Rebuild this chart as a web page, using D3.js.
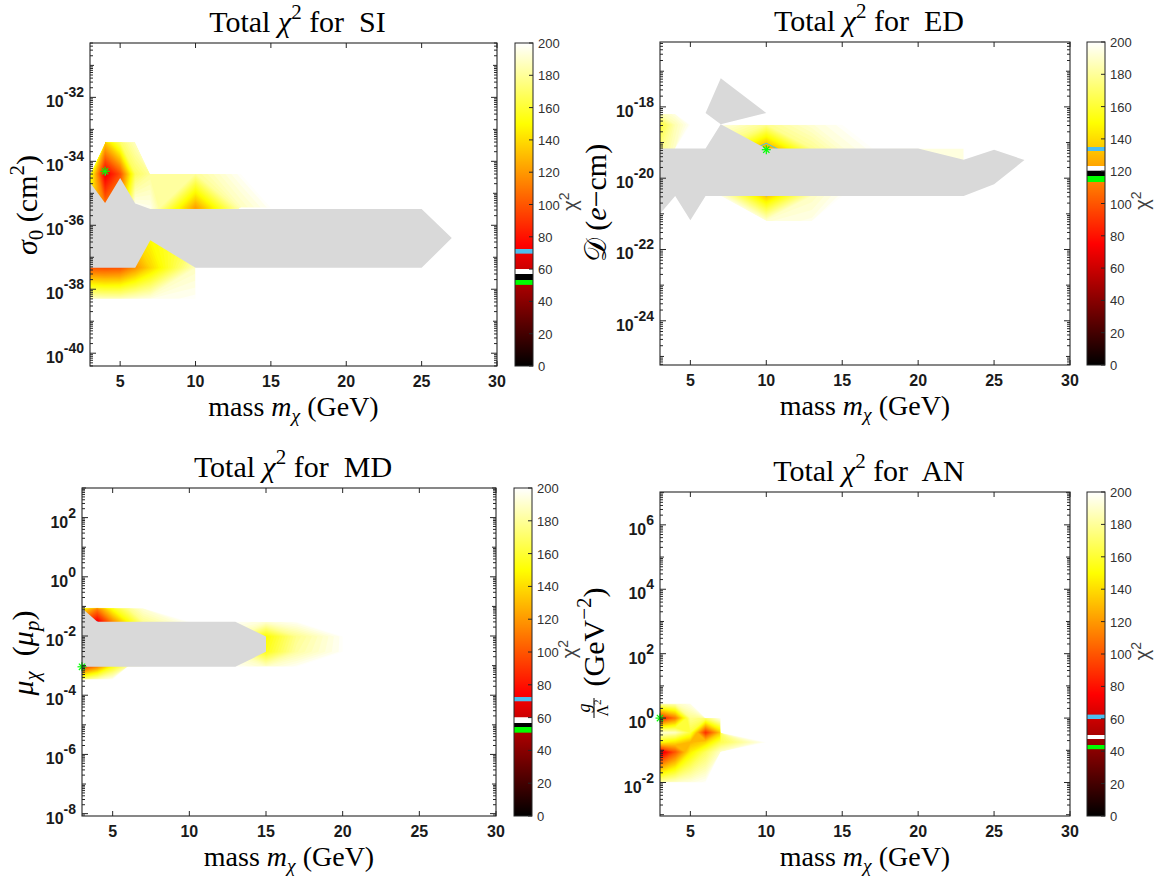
<!DOCTYPE html>
<html>
<head>
<meta charset="utf-8">
<script src="https://cdn.jsdelivr.net/npm/d3@7"></script>
<style>
  body { margin: 0; background: #fff; }
  svg { display: block; }
  .tex { font-family: "Liberation Serif", "Times New Roman", serif; fill: #000; white-space: pre; }
  .num { font-family: "Liberation Sans", Arial, sans-serif; font-weight: bold; fill: #1a1a1a; }
  .cbnum { font-family: "Liberation Sans", Arial, sans-serif; fill: #303030; font-size: 13px; }
</style>
</head>
<body>
<div id="fig"></div>
<script>
// chi2 far above the colour range (drawn white)
const O = 10000;

const masses = [3, 4, 5, 6, 7, 10, 13, 15, 17, 20, 23, 25, 27, 30];
const massTicks = [5, 10, 15, 20, 25, 30];
const cbTicks = d3.range(0, 201, 20);

// ---- SI : sigma_0 (cm^2), rows are log10 values, top to bottom
const siRows = [-30.3, -33.4, -34.4, -35.45, -36.4, -37.33, -38.3, -40.4];
const siChi2 = [
  [O, O, O, O, O, O, O, O, O, O, O, O, O, O],
  [O, 135, 170, 188, O, O, O, O, O, O, O, O, O, O],
  [160, 70, 98, 168, 180, 180, 199, O, O, O, O, O, O, O],
  [145, 112, 125, 200, 196, 122, 187, 199, O, O, O, O, O, O],
  [130, 120, 120, 140, 150, 170, O, O, O, O, O, O, O, O],
  [100, 98, 100, 118, 138, 188, O, O, O, O, O, O, O, O],
  [190, 188, 188, 192, 195, 199, O, O, O, O, O, O, O, O],
  [O, O, O, O, O, O, O, O, O, O, O, O, O, O]
];
const siGray = [[[3, -34.66], [4, -35.3], [5, -34.52], [6, -35.32], [7, -35.49], [25, -35.49], [27, -36.4],
  [25, -37.33], [10, -37.33], [7, -36.47], [6, -37.33], [3, -37.33]]];
const siBands = [[50.5, 53.5], [53.5, 56.8], [56.8, 60], [69.6, 72.4]];
const siBest = [4, -34.31];
const siYDomain = [-40.4, -30.3];
const siYLabels = [-40, -38, -36, -34, -32];

// ---- ED : D (e-cm)
const edRows = [-16.18, -18.2, -18.5, -19.17, -19.8, -20.5, -21.2, -25.24];
const edChi2 = [
  [O, O, O, O, O, O, O, O, O, O, O, O, O, O],
  [185, 195, O, O, O, O, O, O, O, O, O, O, O, O],
  [160, 185, 199, O, 195, 178, 192, 199, O, O, O, O, O, O],
  [175, 190, O, O, 172, 121, 178, 192, 199, 195, 193, O, O, O],
  [180, 190, O, O, 150, 115, 160, 185, 199, 196, 194, O, O, O],
  [O, O, O, O, 196, 134, 188, 199, O, O, O, O, O, O],
  [O, O, O, O, O, 192, 196, O, O, O, O, O, O, O],
  [O, O, O, O, O, O, O, O, O, O, O, O, O, O]
];
const edGray = [
  [[7, -17.2], [6, -18.17], [7, -18.49], [10, -18.17]],
  [[3, -19.17], [6, -19.17], [7, -18.49], [10, -19.17], [20, -19.17], [23, -19.48], [25, -19.2], [27, -19.49],
   [25, -20.17], [23, -20.5], [6, -20.5], [5, -21.18], [4, -20.5], [3, -21.0]]
];
const edBands = [[113.5, 117], [117, 120.5], [120.5, 123.5], [132.5, 135.2]];
const edBest = [10, -19.2];
const edYDomain = [-25.24, -16.18];
const edYLabels = [-24, -22, -20, -18];

// ---- MD : mu_chi (mu_p)
const mdRows = [3, -1.06, -1.52, -2.02, -2.53, -3.04, -3.47, -8.08];
const mdChi2 = [
  [O, O, O, O, O, O, O, O, O, O, O, O, O, O],
  [150, 115, 155, 178, 193, O, O, O, O, O, O, O, O, O],
  [100, 71, 115, 150, 178, 199, 199, 192, 199, O, O, O, O, O],
  [90, 80, 110, 140, 160, 180, 185, 150, 178, 199, O, O, O, O],
  [80, 90, 120, 150, 165, 185, 185, 155, 182, 199, O, O, O, O],
  [88, 115, 155, 182, 196, O, 199, 190, 199, O, O, O, O, O],
  [175, 188, 199, O, O, O, O, O, O, O, O, O, O, O],
  [O, O, O, O, O, O, O, O, O, O, O, O, O, O]
];
const mdGray = [[[3, -1.06], [4, -1.52], [13, -1.52], [15, -2.02], [15, -2.53], [13, -3.04], [3, -3.04]]];
const mdBands = [[50.8, 54.1], [54.1, 57], [57, 60.2], [69.8, 72.5]];
const mdBest = [3, -3.04];
const mdYDomain = [-8.08, 3];
const mdYLabels = [-8, -6, -4, -2, 0, 2];

// ---- AN : g / Lambda^2 (GeV^-2)
const anRows = [7.02, 0.45, 0, -0.45, -0.75, -1.05, -2.0, -3.04];
const anChi2 = [
  [O, O, O, O, O, O, O, O, O, O, O, O, O, O],
  [185, 188, 196, O, O, O, O, O, O, O, O, O, O, O],
  [78, 110, 178, 172, 199, O, O, O, O, O, O, O, O, O],
  [192, 188, 162, 88, 135, O, O, O, O, O, O, O, O, O],
  [150, 142, 128, 138, 165, 199, O, O, O, O, O, O, O, O],
  [61, 100, 145, 168, 190, O, O, O, O, O, O, O, O, O],
  [184, 190, 194, 199, O, O, O, O, O, O, O, O, O, O],
  [O, O, O, O, O, O, O, O, O, O, O, O, O, O]
];
const anGray = [];
const anBands = [[41.2, 44], null, [47.4, 50.2], [60, 62.6]];
const anBest = [3, 0];
const anYDomain = [-3.04, 7.02];
const anYLabels = [-2, 0, 2, 4, 6];

// band colours: best fit (green), black, white, cyan
const bandColors = ["#00ff00", "#000000", "#ffffff", "#4dbeee"];
const grayNaN = "#d9d9d9";
const axisCol = "#262626";

const hot = d3.scaleLinear()
  .domain([0, 75, 150, 200])
  .range(["#000000", "#ff0000", "#ffff00", "#ffffff"])
  .clamp(true);

function colorAt(v, bands) {
  for (let i = 0; i < bands.length; i++) {
    const b = bands[i];
    if (b && v >= b[0] && v < b[1]) return bandColors[i];
  }
  return hot(v);
}

function levels(bands) {
  const t = d3.range(0, 200, 2.5);
  bands.forEach(b => { if (b) t.push(b[0], b[1]); });
  t.push(200);
  return Array.from(new Set(t)).sort((a, b) => a - b);
}

// write text with italic / super / subscript pieces
function rich(text, parts, fs) {
  let shift = 0;
  parts.forEach(([s, kind = ""]) => {
    let target = 0, size = fs;
    if (kind.includes("sup")) { target = -0.42 * fs; size = 0.7 * fs; }
    if (kind.includes("sub")) { target = 0.2 * fs; size = 0.7 * fs; }
    const ts = text.append("tspan").text(s)
      .attr("dy", target - shift)
      .attr("font-size", size);
    if (kind.includes("i")) ts.attr("font-style", "italic");
    shift = target;
  });
}

const W = 1164, H = 877;
const svg = d3.select("#fig").append("svg")
  .attr("width", W).attr("height", H)
  .attr("viewBox", [0, 0, W, H]);

const panels = [
  { name: "SI", rows: siRows, chi2: siChi2, gray: siGray, bands: siBands, best: siBest,
    yDomain: siYDomain, yLabels: siYLabels,
    box: { x0: 90, x1: 497, y0: 43, y1: 366, c0: 515, c1: 533 },
    ylab: { x: 27, y: 205, parts: [["σ", "i"], ["0", "sub"], [" (cm"], ["2", "sup"], [")"]] } },
  { name: "ED", rows: edRows, chi2: edChi2, gray: edGray, bands: edBands, best: edBest,
    yDomain: edYDomain, yLabels: edYLabels,
    box: { x0: 660, x1: 1070, y0: 42, y1: 365, c0: 1087, c1: 1105 },
    ylab: { x: 596, y: 203, parts: [["𝒟"], [" ("], ["e", "i"], ["−cm)"]] } },
  { name: "MD", rows: mdRows, chi2: mdChi2, gray: mdGray, bands: mdBands, best: mdBest,
    yDomain: mdYDomain, yLabels: mdYLabels,
    box: { x0: 82, x1: 496, y0: 488, y1: 816, c0: 514, c1: 532 },
    ylab: { x: 23, y: 653, parts: [["μ", "i"], ["χ", "i sub"], ["  ("], ["μ", "i"], ["p", "i sub"], [")"]] } },
  { name: "AN", rows: anRows, chi2: anChi2, gray: anGray, bands: anBands, best: anBest,
    yDomain: anYDomain, yLabels: anYLabels,
    box: { x0: 660, x1: 1070, y0: 492, y1: 816, c0: 1087, c1: 1105 },
    ylab: null }
];

const defs = svg.append("defs");

panels.forEach((p, k) => {
  const b = p.box;
  const x = d3.scaleLinear().domain([3, 30]).range([b.x0, b.x1]);
  const y = d3.scaleLog().domain(p.yDomain.map(e => 10 ** e)).range([b.y1, b.y0]);
  const g = svg.append("g");

  defs.append("clipPath").attr("id", "clip" + k)
    .append("rect").attr("x", b.x0).attr("y", b.y0)
    .attr("width", b.x1 - b.x0).attr("height", b.y1 - b.y0);

  // filled contours of chi2 on the (mass, log coupling) grid
  const dx = masses.length, dy = p.rows.length;
  const ix = d3.scaleLinear().domain(d3.range(dx)).range(masses);
  const iy = d3.scaleLinear().domain(d3.range(dy)).range(p.rows);
  const proj = d3.geoTransform({
    point(a, c) { this.stream.point(x(ix(a - 0.5)), y(10 ** iy(c - 0.5))); }
  });
  const path = d3.geoPath(proj);
  const t = levels(p.bands);
  const cs = d3.contours().size([dx, dy]).thresholds(t)(p.chi2.flat());

  const plot = g.append("g").attr("clip-path", `url(#clip${k})`);
  plot.append("rect").attr("x", b.x0).attr("y", b.y0)
    .attr("width", b.x1 - b.x0).attr("height", b.y1 - b.y0).attr("fill", "#fff");
  plot.selectAll("path.lev").data(cs).join("path")
    .attr("class", "lev")
    .attr("d", path)
    .attr("fill", (d, i) => i < t.length - 1 ? colorAt((t[i] + t[i + 1]) / 2, p.bands) : "#ffffff");

  // regions without a result
  plot.selectAll("path.nan").data(p.gray).join("path")
    .attr("class", "nan")
    .attr("d", d => d3.line()(d.map(([m, e]) => [x(m), y(10 ** e)])) + "Z")
    .attr("fill", grayNaN);

  // best fit point
  const bx = x(p.best[0]), by = y(10 ** p.best[1]), r = 4.5;
  const star = g.append("g").attr("stroke", "#00ff00").attr("stroke-width", 1.2);
  [[r, 0], [0, r], [r * 0.7, r * 0.7], [r * 0.7, -r * 0.7]].forEach(([u, v]) => {
    star.append("line").attr("x1", bx - u).attr("y1", by - v).attr("x2", bx + u).attr("y2", by + v);
  });

  // frame and ticks
  g.append("rect").attr("x", b.x0).attr("y", b.y0)
    .attr("width", b.x1 - b.x0).attr("height", b.y1 - b.y0)
    .attr("fill", "none").attr("stroke", axisCol).attr("stroke-width", 1.1);

  const tk = g.append("g").attr("stroke", axisCol).attr("stroke-width", 1);
  massTicks.forEach(m => {
    tk.append("line").attr("x1", x(m)).attr("x2", x(m)).attr("y1", b.y1).attr("y2", b.y1 - 5);
    tk.append("line").attr("x1", x(m)).attr("x2", x(m)).attr("y1", b.y0).attr("y2", b.y0 + 5);
  });
  const lo = Math.floor(p.yDomain[0]), hi = Math.ceil(p.yDomain[1]);
  for (let e = lo; e <= hi; e++) {
    for (let m = 1; m <= 9; m++) {
      const lv = Math.log10(m) + e;
      if (lv < p.yDomain[0] || lv > p.yDomain[1]) continue;
      const len = m === 1 ? (p.yLabels.includes(e) ? 6 : 4) : 3;
      const yy = y(10 ** lv);
      tk.append("line").attr("x1", b.x0).attr("x2", b.x0 + len).attr("y1", yy).attr("y2", yy);
      tk.append("line").attr("x1", b.x1).attr("x2", b.x1 - len).attr("y1", yy).attr("y2", yy);
    }
  }

  g.selectAll("text.xt").data(massTicks).join("text")
    .attr("class", "num xt")
    .attr("x", d => x(d)).attr("y", b.y1 + 21)
    .attr("text-anchor", "middle").attr("font-size", 16)
    .text(d => d);

  p.yLabels.forEach(e => {
    const tx = g.append("text").attr("class", "num")
      .attr("x", b.x0 - 6).attr("y", y(10 ** e) + 10)
      .attr("text-anchor", "end");
    tx.append("tspan").attr("font-size", 16).text("10");
    tx.append("tspan").attr("font-size", 14).attr("dy", -10).text(String(e));
  });

  // title and axis labels
  const title = g.append("text").attr("class", "tex")
    .attr("x", (b.x0 + b.x1) / 2 + 4).attr("y", b.y0 - 11).attr("text-anchor", "middle");
  rich(title, [["Total "], ["χ", "i"], ["2", "sup"], [" for  " + p.name]], 30);

  const xl = g.append("text").attr("class", "tex")
    .attr("x", (b.x0 + b.x1) / 2).attr("y", b.y1 + 50).attr("text-anchor", "middle");
  rich(xl, [["mass "], ["m", "i"], ["χ", "i sub"], [" (GeV)"]], 28);

  if (p.ylab) {
    const yl = g.append("text").attr("class", "tex")
      .attr("transform", `translate(${p.ylab.x + 10},${p.ylab.y}) rotate(-90)`)
      .attr("text-anchor", "middle");
    rich(yl, p.ylab.parts, 30);
  } else {
    // g / Lambda^2 (GeV^-2)
    const yl = g.append("g").attr("transform", `translate(${601},${650}) rotate(-90)`);
    yl.append("text").attr("class", "tex").attr("x", -58).attr("y", -11)
      .attr("text-anchor", "middle").attr("font-size", 18).attr("font-style", "italic").text("g");
    yl.append("line").attr("x1", -68).attr("x2", -48).attr("y1", -7).attr("y2", -7)
      .attr("stroke", "#000").attr("stroke-width", 1);
    const den = yl.append("text").attr("class", "tex").attr("x", -58).attr("y", 7)
      .attr("text-anchor", "middle");
    rich(den, [["Λ"], ["2", "sup"]], 16);
    const rest = yl.append("text").attr("class", "tex").attr("x", -44).attr("y", 3);
    rich(rest, [[" (GeV"], ["−2", "sup"], [")"]], 30);
  }

  // colorbar as a gradient with hard band edges
  const grad = defs.append("linearGradient").attr("id", "cbar" + k)
    .attr("x1", 0).attr("y1", 1).attr("x2", 0).attr("y2", 0);
  grad.selectAll("stop").data(d3.range(0, 200.01, 0.25)).join("stop")
    .attr("offset", d => d / 200)
    .attr("stop-color", d => colorAt(d, p.bands));
  const cy = d3.scaleLinear().domain([0, 200]).range([b.y1, b.y0]);
  const cb = g.append("g");
  cb.append("rect").attr("x", b.c0).attr("y", b.y0)
    .attr("width", b.c1 - b.c0).attr("height", b.y1 - b.y0)
    .attr("fill", `url(#cbar${k})`)
    .attr("stroke", axisCol).attr("stroke-width", 1);
  cbTicks.forEach(v => {
    cb.append("line").attr("x1", b.c1).attr("x2", b.c1 - 4)
      .attr("y1", cy(v)).attr("y2", cy(v)).attr("stroke", axisCol);
    cb.append("text").attr("class", "cbnum")
      .attr("x", b.c1 + 5).attr("y", cy(v) + 5).text(v);
  });
  const cl = cb.append("text")
    .attr("transform", `translate(${b.c1 + 44},${(b.y0 + b.y1) / 2 - 3}) rotate(-90)`)
    .attr("text-anchor", "middle")
    .attr("font-family", "Liberation Sans, Arial, sans-serif").attr("fill", "#404040");
  rich(cl, [["χ"], ["2", "sup"]], 20);
});
</script>
</body>
</html>
